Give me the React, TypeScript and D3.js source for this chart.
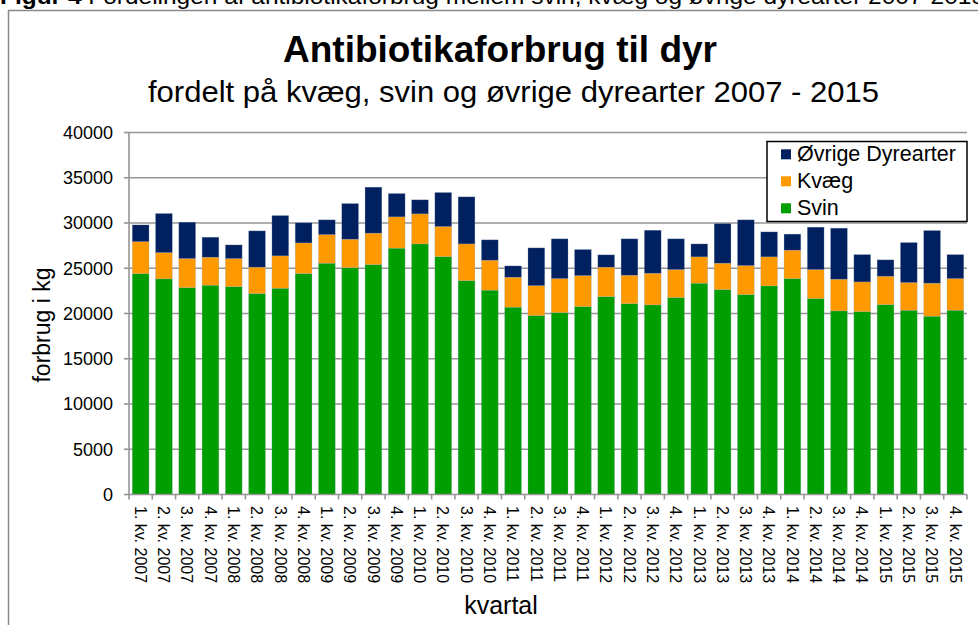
import React from 'react';
import * as d3 from 'd3';

// values in kg per quarter
const years = [2007, 2008, 2009, 2010, 2011, 2012, 2013, 2014, 2015];
const quarterNames = ['1.', '2.', '3.', '4.'];
const quarters = years.flatMap(y => quarterNames.map(q => `${q} kv. ${y}`));

const svin = [24400, 23830, 22860, 23130, 22970, 22200, 22790, 24410, 25560, 25070, 25410, 27220, 27690, 26290, 23640, 22580, 20700, 19770, 20100, 20760, 21870, 21090, 20950, 21760, 23350, 22640, 22090, 23050, 23860, 21650, 20290, 20210, 20980, 20360, 19700, 20360];
const kvaeg = [3540, 2900, 3210, 3090, 3100, 2920, 3580, 3390, 3160, 3140, 3470, 3460, 3320, 3320, 4050, 3310, 3310, 3310, 3760, 3430, 3250, 3140, 3500, 3090, 2910, 2920, 3210, 3210, 3140, 3200, 3500, 3280, 3140, 3060, 3650, 3500];
const ovrige = [1850, 4320, 4020, 2210, 1510, 4010, 4450, 2220, 1630, 3940, 5080, 2580, 1550, 3760, 5200, 2250, 1250, 4170, 4390, 2880, 1360, 4020, 4750, 3400, 1430, 4380, 5050, 2760, 1770, 4690, 5640, 3020, 1810, 4420, 5820, 2650];

const yTicks = [0, 5000, 10000, 15000, 20000, 25000, 30000, 35000, 40000];

const seriesKeys = ['svin', 'kvaeg', 'ovrige'];
const seriesNames = { svin: 'Svin', kvaeg: 'Kvæg', ovrige: 'Øvrige Dyrearter' };
const colors = { svin: '#009e00', kvaeg: '#ff9900', ovrige: '#002060' };

const font = '"Liberation Sans", Arial, sans-serif';

export default function App() {
  const W = 978;
  const H = 625;
  const left = 129, right = 967, top = 132.5, bottom = 494.5;

  const rows = quarters.map((q, i) => ({ q, svin: svin[i], kvaeg: kvaeg[i], ovrige: ovrige[i] }));
  const stacked = d3.stack().keys(seriesKeys)(rows);

  const x = d3.scaleBand().domain(quarters).range([left, right]).paddingInner(0.28).paddingOuter(0.14);
  const y = d3.scaleLinear().domain([0, 40000]).range([bottom, top]);

  const step = x.step();
  const bandEdges = d3.range(quarters.length + 1).map(i => left + i * step);

  const legendItems = ['ovrige', 'kvaeg', 'svin'];

  return (
    <svg width={W} height={H} style={{ position: 'absolute', left: 0, top: 0, background: '#fff' }} fontFamily={font}>
      {/* caption above the chart, clipped by the page top as in the source */}
      <text x={0} y={3.5} fontSize={22} textLength={985} lengthAdjust="spacingAndGlyphs" fill="#000">
        <tspan fontWeight="bold">Figur 4</tspan> Fordelingen af antibiotikaforbrug mellem svin, kvæg og øvrige dyrearter 2007-2015
      </text>
      <rect x={8.5} y={10.5} width={990} height={640} fill="none" stroke="#8a8a8a" strokeWidth={1.5} />

      <text x={500} y={62} fontSize={36} fontWeight="bold" textAnchor="middle" textLength={434} lengthAdjust="spacingAndGlyphs">
        Antibiotikaforbrug til dyr
      </text>
      <text x={513.5} y={102} fontSize={30} textAnchor="middle" textLength={731} lengthAdjust="spacingAndGlyphs">
        fordelt på kvæg, svin og øvrige dyrearter 2007 - 2015
      </text>

      {/* grid and y axis */}
      {yTicks.map(t => (
        <g key={t}>
          {t > 0 && <line x1={left} x2={right} y1={y(t)} y2={y(t)} stroke="#959595" strokeWidth={1.6} />}
          <line x1={left - 5} x2={left} y1={y(t)} y2={y(t)} stroke="#959595" strokeWidth={1.6} />
          <text x={113} y={y(t)} dy="0.36em" fontSize={18} textAnchor="end">{t}</text>
        </g>
      ))}

      {/* bars */}
      {stacked.map(s => (
        <g key={s.key} fill={colors[s.key]}>
          {s.map((d, i) => (
            <rect
              key={i}
              x={x(quarters[i])}
              y={y(d[1])}
              width={x.bandwidth()}
              height={y(d[0]) - y(d[1])}
              stroke="#9aa6bd"
              strokeOpacity={0.45}
              strokeWidth={0.6}
            />
          ))}
        </g>
      ))}

      {/* axes lines */}
      <line x1={left} x2={left} y1={top} y2={bottom} stroke="#959595" strokeWidth={1.6} />
      <line x1={left} x2={right} y1={bottom} y2={bottom} stroke="#959595" strokeWidth={1.6} />
      {bandEdges.map((e, i) => (
        <line key={i} x1={e} x2={e} y1={bottom} y2={bottom + 5} stroke="#959595" strokeWidth={1.6} />
      ))}

      {/* x tick labels, rotated */}
      {quarters.map(q => {
        const cx = x(q) + x.bandwidth() / 2;
        return (
          <text key={q} transform={`translate(${cx},506) rotate(90)`} dy="0.36em" fontSize={16}>
            {q}
          </text>
        );
      })}

      <text transform="translate(50,325) rotate(-90)" fontSize={23} textAnchor="middle">forbrug i kg</text>
      <text x={501} y={614} fontSize={25} textAnchor="middle">kvartal</text>

      {/* legend */}
      <rect x={767} y={141.5} width={200} height={80} fill="#fff" stroke="#000" strokeWidth={1.5} />
      {legendItems.map((k, i) => {
        const cy = 154.3 + i * 27;
        return (
          <g key={k}>
            <rect x={781} y={cy - 5} width={10} height={10} fill={colors[k]} />
            <text x={797} y={cy + 7} fontSize={21.5}>{seriesNames[k]}</text>
          </g>
        );
      })}
    </svg>
  );
}
